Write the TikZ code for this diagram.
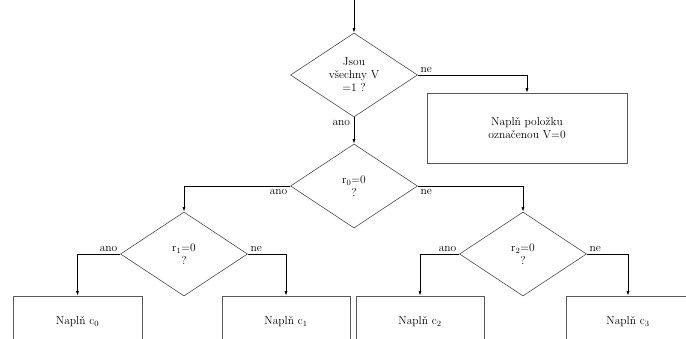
\documentclass[tikz,border=0pt]{standalone}
\usetikzlibrary{shapes.geometric,arrows.meta}
\begin{document}
\begin{tikzpicture}[x=1pt,y=-1pt,
  font=\fontsize{11.5}{13}\selectfont,
  dec/.style={diamond, draw=black!75, line width=0.55pt, minimum width=127pt, minimum height=84pt, aspect=1.5, inner sep=0pt, align=center},
  act/.style={rectangle, draw=black!65, line width=0.55pt, minimum height=52pt, inner sep=0pt, align=center},
  conn/.style={draw=black, line width=0.75pt, -{Latex[length=4.5pt,width=3pt]}},
  lbl/.style={inner sep=2.5pt}]
\clip (0,0) rectangle (686,338);
\node[dec] (d1) at (354,75) {Jsou\\všechny V\\=1 ?};
\node[act, minimum width=200pt, minimum height=70pt] (b1) at (527,128) {Naplň položku\\označenou V=0};
\node[dec] (d2) at (354,186) {r\textsubscript{0}=0\\?};
\node[dec] (d3) at (184,254) {r\textsubscript{1}=0\\?};
\node[dec] (d4) at (523,254) {r\textsubscript{2}=0\\?};
\node[act, minimum width=129pt] (c0) at (77.5,322) {Naplň c\textsubscript{0}};
\node[act, minimum width=128pt] (c1) at (286,322) {Naplň c\textsubscript{1}};
\node[act, minimum width=128pt] (c2) at (420,322) {Naplň c\textsubscript{2}};
\node[act, minimum width=124pt] (c3) at (628,322) {Naplň c\textsubscript{3}};
\coordinate (start) at (354,-2);
\draw[conn] (start) -- (d1.north);
\draw[conn] (d1.east) -| node[pos=0, lbl, anchor=south west] {ne} (b1.north);
\draw[conn] (d1.south) -- node[pos=0, lbl, anchor=north east, xshift=-1pt] {ano} (d2.north);
\draw[conn] (d2.west) -| node[pos=0, lbl, anchor=north east] {ano} (d3.north);
\draw[conn] (d2.east) -| node[pos=0, lbl, anchor=north west] {ne} (d4.north);
\draw[conn] (d3.west) -| node[pos=0, lbl, anchor=south east] {ano} (c0.north);
\draw[conn] (d3.east) -| node[pos=0, lbl, anchor=south west] {ne} (c1.north);
\draw[conn] (d4.west) -| node[pos=0, lbl, anchor=south east] {ano} (c2.north);
\draw[conn] (d4.east) -| node[pos=0, lbl, anchor=south west] {ne} (c3.north);
\end{tikzpicture}
\end{document}
